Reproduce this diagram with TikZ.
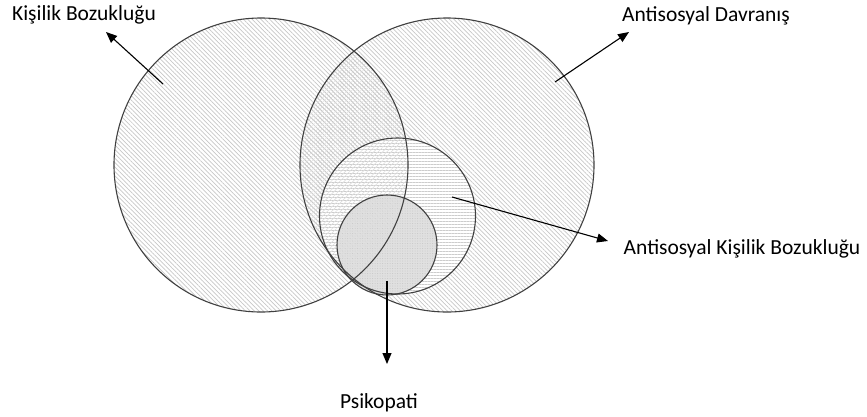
\documentclass[tikz,border=0pt]{standalone}
\usepackage{fontspec}
\setmainfont{Carlito}
\usetikzlibrary{patterns.meta,arrows.meta}
\begin{document}
\begin{tikzpicture}[x=1pt,y=-1pt,
  ring/.style={circle, draw=black!75, line width=1.1pt, inner sep=0pt},
  diag/.style={pattern={Lines[angle=-45,distance=3.1pt,line width=0.7pt]}, pattern color=black!22},
  cross/.style={pattern={Lines[angle=45,distance=3.1pt,line width=0.6pt]}, pattern color=black!13},
  horiz/.style={pattern={Lines[angle=0,distance=3pt,line width=0.7pt]}, pattern color=black!20},
  arr/.style={-{Triangle[length=11pt,width=9pt]}, line width=1.1pt, draw=black},
  lbl/.style={font=\fontsize{21.5}{24}\selectfont, inner sep=0pt, text=black}]
\useasboundingbox (0,0) rectangle (867,416);
% fills
\path[diag] (261,165) circle[radius=147pt];
\path[diag] (447,165) circle[radius=147pt];
\begin{scope}
  \clip (261,165) circle[radius=147pt];
  \path[cross] (447,165) circle[radius=147pt];
\end{scope}
\fill[white] (397.5,216) circle[radius=78pt];
\path[horiz] (397.5,216) circle[radius=78pt];
\begin{scope}
  \clip (261,165) circle[radius=147pt];
  \path[cross] (397.5,216) circle[radius=78pt];
\end{scope}
\fill[black!12] (387,245) circle[radius=50pt];
\path[pattern={Dots[distance=2.5pt,radius=0.5pt]}, pattern color=black!22] (387,245) circle[radius=50pt];
\begin{scope}
  \clip (261,165) circle[radius=147pt];
  \path[cross] (387,245) circle[radius=50pt];
\end{scope}
% outlines
\node[ring, minimum size=294pt] (L) at (261,165) {};
\node[ring, minimum size=294pt] (R) at (447,165) {};
\node[ring, minimum size=156pt] (M) at (397.5,216) {};
\node[ring, minimum size=100pt] (S) at (387,245) {};
% labels
\node[lbl] (kb) at (84,15) {Kişilik Bozukluğu};
\node[lbl] (ad) at (706,16) {Antisosyal Davranış};
\node[lbl] (akb) at (742,249) {Antisosyal Kişilik Bozukluğu};
\node[lbl] (ps) at (379,403) {Psikopati};
% arrow anchors
\coordinate (kbA) at (163,84);
\coordinate (kbB) at (106,32);
\coordinate (adA) at (555,82);
\coordinate (adB) at (629,32);
\coordinate (akbA) at (452,197);
\coordinate (akbB) at (608,241);
\coordinate (psA) at (387,281);
\coordinate (psB) at (387,364);
\draw[arr] (kbA) -- (kbB);
\draw[arr] (adA) -- (adB);
\draw[arr] (akbA) -- (akbB);
\draw[arr] (psA) -- (psB);
\end{tikzpicture}
\end{document}
